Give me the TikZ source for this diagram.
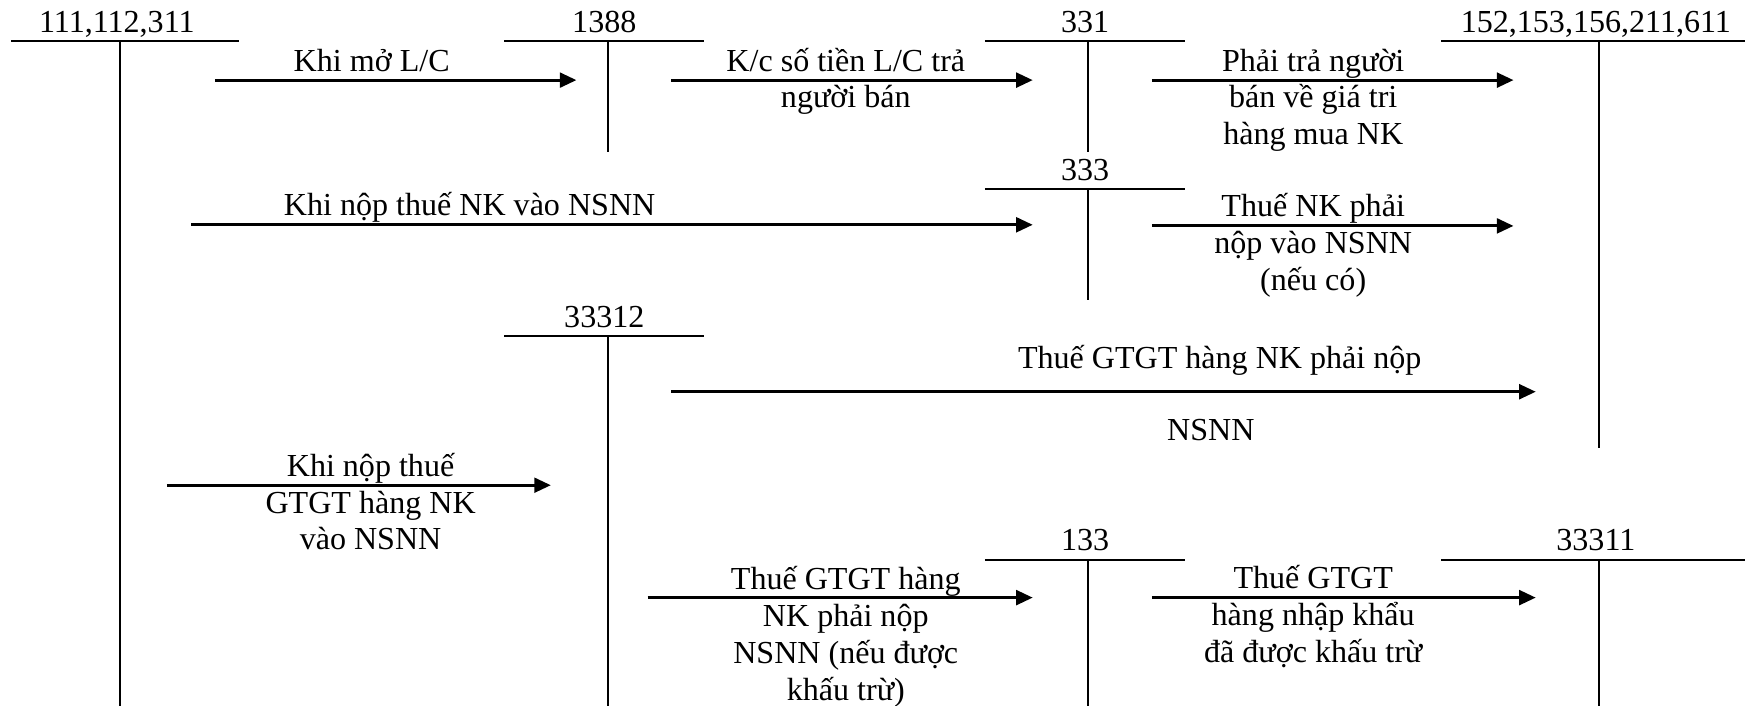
\documentclass[tikz,border=0pt]{standalone}
\usepackage{fontspec}
\setmainfont{Liberation Serif}
\usetikzlibrary{arrows.meta}

\begin{document}
\begin{tikzpicture}[x=0.02cm, y=-0.02cm, >={Triangle[length=8.5pt,width=7.5pt]},
  every node/.style={font=\fontsize{16.4}{18.8}\selectfont, inner sep=0pt},
  tline/.style={line width=1.2pt},
  tstem/.style={line width=1pt},
  flow/.style={->, line width=1.6pt},
  note/.style={align=center, anchor=base}]
  \useasboundingbox (0,0) rectangle (1568,634);
  % tai khoan chu T: ten/trai/phai/giua/tren/duoi/so hieu
  \foreach \nm/\xl/\xr/\xm/\ty/\yb/\lab in {
      tk111/10/215/108/37/634/{111,112,311},
      tk1388/453/633/546/37/137/1388,
      tk331/885/1065/978/37/137/331,
      tk152/1295/1568/1437/37/403/{152,153,156,211,611},
      tk333/885/1065/978/170/270/333,
      tk33312/453/633/546/302/634/33312,
      tk133/885/1065/978/503/634/133,
      tk33311/1295/1568/1437/503/634/33311}{
    \node[anchor=base] (\nm) at (\xm-3,\ty-8) {\lab};
    \draw[tline] (\xl,\ty) -- (\xr,\ty);
    \draw[tstem] (\xm,\ty) -- (\xm,\yb);
  }
  % cac but toan
  \foreach \nm/\xa/\xb/\yy in {
      mo/193/518/72, kc/603/928/72, ptra/1035/1360/72,
      nopnk/172/928/202, thuenk/1035/1360/203,
      gtgt/603/1380/352, nopgtgt/150/495/436,
      ktru/582/928/537, dktru/1035/1380/537}{
    \coordinate (\nm s) at (\xa,\yy);
    \coordinate (\nm e) at (\xb,\yy);
    \draw[flow] (\nm s) -- (\nm e);
  }
  % nhan: y la duong co so cua dong cuoi
  \node[note] (lmo) at (334,64) {Khi mở L/C};
  \node[note] (lkc) at (760,97) {K/c số tiền L/C trả\\người bán};
  \node[note] (lptra) at (1180,130) {Phải trả người\\bán về giá tri\\hàng mua NK};
  \node[note] (lnopnk) at (422,194) {Khi nộp thuế NK vào NSNN};
  \node[note] (lthuenk) at (1180,261) {Thuế NK phải\\nộp vào NSNN\\(nếu có)};
  \node[note] (lgtgt) at (1096,331) {Thuế GTGT hàng NK phải nộp};
  \node[note] (lnsnn) at (1088,396) {NSNN};
  \node[note] (lnopgtgt) at (333,494) {Khi nộp thuế\\GTGT hàng NK\\vào NSNN};
  \node[note] (lktru) at (760,629) {Thuế GTGT hàng\\NK phải nộp\\NSNN (nếu được\\khấu trừ)};
  \node[note] (ldktru) at (1180,595) {Thuế GTGT\\hàng nhập khẩu\\đã được khấu trừ};
\end{tikzpicture}
\end{document}
